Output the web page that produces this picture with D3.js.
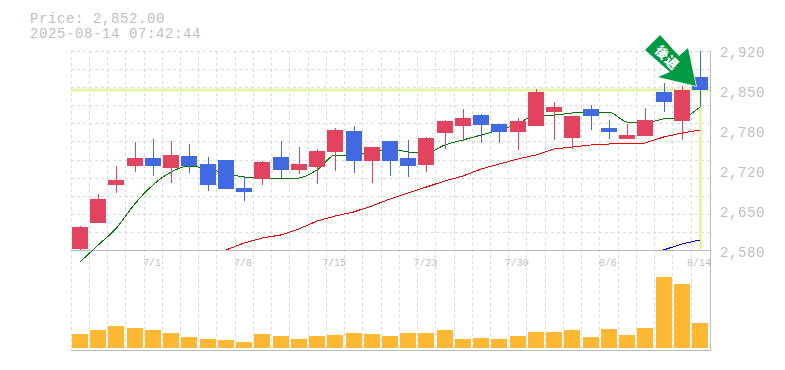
<!DOCTYPE html>
<html><head><meta charset="utf-8">
<style>html,body{margin:0;padding:0;background:#fff;overflow:hidden}svg{display:block}</style>
<script src="https://cdn.jsdelivr.net/npm/d3@7/dist/d3.min.js"></script>
</head><body><div id="c"></div>
<script>
const priceTitle = "Price: 2,852.00";
const stamp = "2025-08-14 07:42:44";
const lastPrice = 2852;
const dateLabels = {4:"7/1",9:"7/8",14:"7/15",19:"7/23",24:"7/30",29:"8/6",34:"8/14"};
const priceTicks = [2920,2852,2784,2716,2648,2580];
const opens  = [2581.7,2625.9,2690.5,2722.8,2736.4,2719.4,2739.8,2726.2,2733,2685.4,2700.7,2738.1,2716,2721.1,2746.6,2782.3,2731.3,2765.3,2736.4,2724.5,2778.9,2790.8,2809.5,2794.2,2780.6,2790.8,2814.6,2770.4,2819.7,2787.4,2768.7,2773.8,2848.6,2799.3,2874.1];
const closes = [2619.1,2666.7,2699,2736.4,2722.8,2741.5,2722.8,2690.5,2683.7,2678.6,2729.6,2716,2726.2,2748.3,2784,2731.3,2755.1,2731.3,2722.8,2770.4,2799.3,2804.4,2792.5,2780.6,2799.3,2848.6,2823.1,2807.8,2807.8,2780.6,2775.5,2801,2831.6,2852,2852];
const highs  = [2620.8,2675.2,2722.8,2763.6,2768.7,2765.3,2760.2,2738.1,2733,2705.8,2731.3,2765.3,2755.1,2751.7,2787.4,2790.8,2755.1,2765.3,2767,2772.1,2801,2819.7,2811.2,2794.2,2804.4,2853.7,2831.6,2807.8,2826.5,2801,2794.2,2821.4,2863.9,2858.8,2918.3];
const lows   = [2580,2625.9,2676.9,2712.6,2705.8,2693.9,2710.9,2680.3,2683.7,2663.3,2690.5,2702.4,2709.2,2692.2,2714.3,2710.9,2693.9,2705.8,2704.1,2712.6,2751.7,2765.3,2761.9,2761.9,2750,2790.8,2767,2751.7,2784,2768.7,2768.7,2773.8,2814.6,2767,2823.1];
const ma25 = [2559.6,2588.5,2617.4,2658.2,2690.5,2712.6,2722.8,2717.7,2710.9,2704.1,2702.4,2700.7,2702.4,2716,2741.5,2741.5,2746.6,2751.7,2746.6,2744.9,2758.5,2767,2775.5,2784,2794.2,2809.5,2809.5,2812.9,2814.6,2814.6,2797.6,2795.9,2802.7,2804.4,2823.1];
const ma75 = [null,null,null,null,null,null,null,null,2580,2591.9,2600.4,2605.5,2615.7,2629.3,2637.8,2644.6,2654.8,2666.7,2676.9,2687.1,2697.3,2705.8,2717.7,2726.2,2734.7,2741.5,2751.7,2755.1,2758.5,2760.2,2760.7,2761.9,2772.1,2778.9,2784];
const ma200= [null,null,null,null,null,null,null,null,null,null,null,null,null,null,null,null,null,null,null,null,null,null,null,null,null,null,null,null,null,null,null,null,2580,2590.2,2597];
const volumes = [14,18,22,20,18,15,11,9,8,6,14,12,9,12,13,15,14,12,15,15,18,9,10,9,12,16,16,18,11,19,13,20,71,64,25];

const W=785,H=370;
const L=70.5,R=710.5,T=50.5,B=250.5,VB=350.5;
const idx=d3.range(opens.length);
const x=d3.scalePoint().domain(idx).range([80,700]);
const y=d3.scaleLinear().domain([2920,2580]).range([50,250]);
const v=d3.scaleLinear().domain([0,100]).range([348,248]);
const svg=d3.select("#c").append("svg").attr("width",W).attr("height",H);
const mono="'Liberation Mono',monospace";
const gridC="#dcdcdc",axisC="#bbbbbb",txtC="#c0c0c0";

// grid
const gridG=svg.append("g").attr("stroke",gridC).attr("stroke-dasharray","3,3").attr("shape-rendering","crispEdges");
d3.range(0,11).forEach(i=>{const yy=Math.round(T+i*200/11)+.5;
  gridG.append("line").attr("x1",L).attr("x2",R).attr("y1",yy).attr("y2",yy);});
idx.forEach(i=>{const xx=Math.round(x(i)-9.4)+.5;
  gridG.append("line").attr("x1",xx).attr("x2",xx).attr("y1",T).attr("y2",VB);});

// axis lines
const ax=svg.append("g").attr("stroke",axisC).attr("shape-rendering","crispEdges");
ax.append("line").attr("x1",L).attr("x2",R).attr("y1",B).attr("y2",B);
ax.append("line").attr("x1",L).attr("x2",R).attr("y1",VB).attr("y2",VB);
ax.append("line").attr("x1",R).attr("x2",R).attr("y1",T).attr("y2",VB);

// current price guides
const gl="#e4f5aa";
svg.append("line").attr("x1",L).attr("x2",R-1).attr("y1",y(lastPrice)).attr("y2",y(lastPrice)).attr("stroke",gl).attr("stroke-width",3);
svg.append("line").attr("x1",x(34)+.5).attr("x2",x(34)+.5).attr("y1",y(lastPrice)).attr("y2",249).attr("stroke",gl).attr("stroke-width",3);

// volumes
svg.append("g").selectAll("rect").data(volumes).join("rect")
 .attr("x",(d,i)=>Math.round(x(i))-8).attr("width",16)
 .attr("y",d=>v(d)).attr("height",d=>348-v(d)).attr("fill","#ffb833").attr("shape-rendering","crispEdges");

// moving averages
function ma(vals,col,curve){
  const ln=d3.line().defined(d=>d!=null).x((d,i)=>x(i)).y(d=>y(d)).curve(curve);
  svg.append("path").attr("d",ln(vals)).attr("fill","none").attr("stroke",col).attr("stroke-width",1).attr("shape-rendering","crispEdges");
}
ma(ma25,"#007a00",d3.curveMonotoneX);ma(ma75,"#f00000",d3.curveLinear);ma(ma200,"#0000e0",d3.curveLinear);

// candles
const red="#e2435f",blue="#4169e1";
const c=svg.append("g").attr("shape-rendering","crispEdges");
idx.forEach(i=>{
  const col=closes[i]>=opens[i]?red:blue;
  const cx=Math.round(x(i));
  c.append("line").attr("x1",cx+.5).attr("x2",cx+.5).attr("y1",y(highs[i])).attr("y2",y(lows[i])).attr("stroke",col).attr("stroke-width",1);
  const t=Math.round(y(Math.max(opens[i],closes[i]))),b=Math.round(y(Math.min(opens[i],closes[i])));
  c.append("rect").attr("x",cx-8).attr("width",16).attr("y",t).attr("height",b-t).attr("fill",col);
});

// arrow
const arrow=[[660,35],[645,50],[670,72],[658,77],[696,86],[688,48],[679,56]];
svg.append("path").attr("d",d3.line()(arrow)+"Z").attr("fill","#009944").attr("stroke","#fff").attr("stroke-width",1.5).attr("paint-order","stroke");
svg.append("text").attr("transform","translate(667,58) rotate(45)").attr("text-anchor","middle").attr("y",4.5)
  .attr("font-family","'Noto Sans CJK JP'").attr("font-weight",900).attr("font-size",13).attr("letter-spacing",1).attr("fill","#fff").text("後退");

// text
function big(sel){return sel.attr("font-family",mono).attr("font-size",14).attr("letter-spacing",0.6).attr("fill",txtC);}
big(svg.append("text").attr("x",30).attr("y",23)).text(priceTitle);
big(svg.append("text").attr("x",30).attr("y",38)).text(stamp);
const fmt=d3.format(",");
priceTicks.forEach(p=>{
  big(svg.append("text").attr("x",720).attr("y",y(p)+7)).text(fmt(Math.round(p/10)*10));
});
Object.entries(dateLabels).forEach(([i,t])=>{
  svg.append("text").attr("x",x(+i)-1).attr("y",266).attr("text-anchor","middle").attr("font-family",mono).attr("font-size",10).attr("fill","#c0c0c0").text(t);
});
</script></body></html>
